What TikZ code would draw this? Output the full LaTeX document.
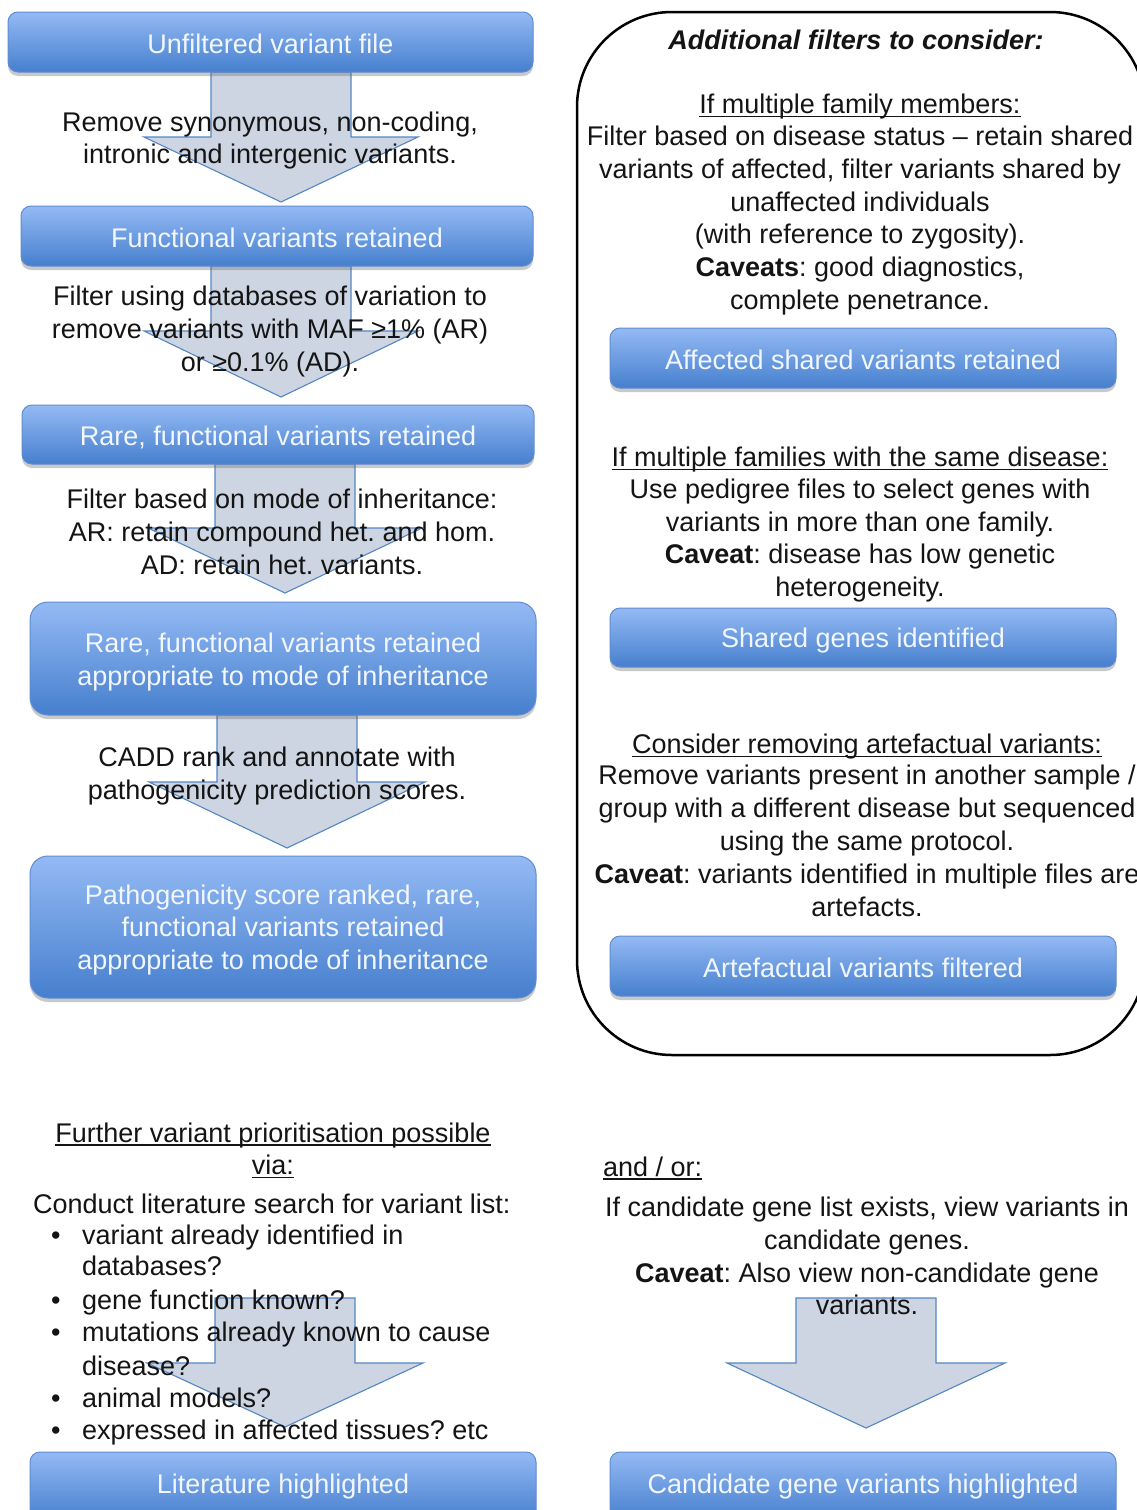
\documentclass[tikz,border=0pt]{standalone}
\usepackage{fontspec}
\setmainfont{Liberation Sans}
\usetikzlibrary{shadows}
\definecolor{boxtop}{RGB}{148,186,244}
\definecolor{boxbot}{RGB}{70,127,206}
\definecolor{boxline}{RGB}{96,140,208}
\definecolor{boxtxt}{RGB}{242,246,253}
\definecolor{arrfill}{RGB}{205,213,227}
\definecolor{arrline}{RGB}{84,134,196}
\definecolor{ink}{RGB}{20,20,20}
\frenchspacing
\newcommand\ulin[1]{\setbox0\hbox{#1}\rlap{\rule[-3.5pt]{\wd0}{1.4pt}}\box0}
\newcommand\blkarrow[5]{%
  \draw[blockarr] (#1-70,#2) -- (#1-70,#3) -- (#1-#5,#3) -- (#1,#4) -- (#1+#5,#3) -- (#1+70,#3) -- (#1+70,#2) -- cycle;}
\begin{document}
\begin{tikzpicture}[x=1pt,y=-1pt,
  bluebox/.style={draw=boxline, line width=1pt, rounded corners=10pt,
    top color=boxtop, bottom color=boxbot, inner sep=0pt,
    drop shadow={shadow xshift=0pt, shadow yshift=-4pt, opacity=0.35, fill=black!60}},
  boxlbl/.style={text=boxtxt, font=\fontsize{27}{32.8}\selectfont, align=center, inner sep=0pt},
  txt/.style={font=\fontsize{27}{32.8}\selectfont, text=ink, align=center, inner sep=0pt},
  bul/.style={txt, anchor=west, text height=20pt, text depth=6pt},
  blockarr/.style={fill=arrfill, draw=arrline, line width=1.1pt, line join=miter}]
\clip (0,0) rectangle (1137,1510);
\fill[white] (0,0) rectangle (1137,1510);

% block arrows
\blkarrow{281}{72}{137}{202}{137}
\blkarrow{281}{266}{331}{397}{137}
\blkarrow{285}{464}{528}{593}{137}
\blkarrow{287}{715}{782}{848}{138}
\blkarrow{285}{1298}{1363}{1427}{138}
\blkarrow{866}{1298}{1363}{1428}{139}

% left boxes
\node[bluebox, minimum width=525pt, minimum height=60pt,
  label={[boxlbl, yshift=-1.5pt]center:Unfiltered variant file}] (b1) at (270.5,42) {};
\node[bluebox, minimum width=512pt, minimum height=60pt,
  label={[boxlbl, yshift=-1.5pt]center:Functional variants retained}] (b2) at (277,236) {};
\node[bluebox, minimum width=512pt, minimum height=59pt,
  label={[boxlbl, yshift=-2.5pt]center:{Rare, functional variants retained}}] (b3) at (278,434.5) {};
\node[bluebox, rounded corners=18pt, minimum width=506pt, minimum height=113pt,
  label={[boxlbl, yshift=-3.5pt]center:{Rare, functional variants retained\\appropriate to mode of inheritance}}] (b4) at (283,658.5) {};
\node[bluebox, rounded corners=18pt, minimum width=506pt, minimum height=142pt,
  label={[boxlbl, yshift=-3pt]center:{Pathogenicity score ranked, rare,\\functional variants retained\\appropriate to mode of inheritance}}] (b5) at (283,927) {};
\node[bluebox, minimum width=506pt, minimum height=68pt,
  label={[boxlbl, yshift=-0.5pt]center:Literature highlighted}] (b6) at (283,1486) {};

% right panel
\node[draw=black, line width=2.5pt, rounded corners=95pt, minimum width=568pt, minimum height=1043pt, inner sep=0pt] (panel) at (861,533.5) {};
\node[bluebox, minimum width=506pt, minimum height=60pt,
  label={[boxlbl, yshift=-1.5pt]center:Affected shared variants retained}] (r1b) at (863,358) {};
\node[bluebox, minimum width=506pt, minimum height=59pt,
  label={[boxlbl, yshift=-3pt]center:Shared genes identified}] (r2b) at (863,637.5) {};
\node[bluebox, minimum width=506pt, minimum height=60pt,
  label={[boxlbl, yshift=-2pt]center:Artefactual variants filtered}] (r3b) at (863,966) {};
\node[bluebox, minimum width=506pt, minimum height=68pt,
  label={[boxlbl, yshift=-0.5pt]center:Candidate gene variants highlighted}] (r4b) at (863,1486) {};

% left texts
\node[txt] (t1) at (270,140.5) {Remove synonymous, non-coding,\\intronic and intergenic variants.};
\node[txt] (t2) at (270,331.5) {Filter using databases of variation to\\remove variants with MAF ≥1\% (AR)\\or ≥0.1\% (AD).};
\node[txt] (t3) at (282,532) {Filter based on mode of inheritance:\\AR: retain compound het. and hom.\\AD: retain het. variants.};
\node[txt] (t4) at (277,776) {CADD rank and annotate with\\pathogenicity prediction scores.};
\node[txt] (h5) at (273,1150.5) {\ulin{Further variant prioritisation possible}\\\ulin{via:}};
\node[bul] (t5) at (33,1206) {Conduct literature search for variant list:};
\node[bul] (d1) at (51,1237) {•};
\node[bul] (l1) at (82,1237) {variant already identified in};
\node[bul] (l1b) at (82,1268) {databases?};
\node[bul] (d2) at (51,1302) {•};
\node[bul] (l2) at (82,1302) {gene function known?};
\node[bul] (d3) at (51,1334) {•};
\node[bul] (l3) at (82,1334) {mutations already known to cause};
\node[bul] (l3b) at (82,1368) {disease?};
\node[bul] (d4) at (51,1400) {•};
\node[bul] (l4) at (82,1400) {animal models?};
\node[bul] (d5) at (51,1432) {•};
\node[bul] (l5) at (82,1432) {expressed in affected tissues? etc};

% right texts
\node[txt, font=\fontsize{27}{32.8}\selectfont\bfseries\itshape] (r0) at (856,40) {Additional filters to consider:};
\node[txt] (r1h) at (860,107) {\ulin{If multiple family members:}};
\node[txt] (r1) at (860,220.5) {Filter based on disease status – retain shared\\variants of affected, filter variants shared by\\unaffected individuals\\(with reference to zygosity).\\\textbf{Caveats}: good diagnostics,\\complete penetrance.};
\node[txt] (r2h) at (860,460) {\ulin{If multiple families with the same disease:}};
\node[txt] (r2) at (860,540.5) {Use pedigree files to select genes with\\variants in more than one family.\\\textbf{Caveat}: disease has low genetic\\heterogeneity.};
\node[txt] (r3h) at (867,747) {\ulin{Consider removing artefactual variants:}};
\node[txt] (r3) at (867,840.8) {Remove variants present in another sample /\\group with a different disease but sequenced\\using the same protocol.\\\textbf{Caveat}: variants identified in multiple files are\\artefacts.};
\node[bul] (r4h) at (603,1169) {\ulin{and / or:}};
\node[txt] (r4) at (867,1256) {If candidate gene list exists, view variants in\\candidate genes.\\\textbf{Caveat}: Also view non-candidate gene\\variants.};
\end{tikzpicture}
\end{document}
